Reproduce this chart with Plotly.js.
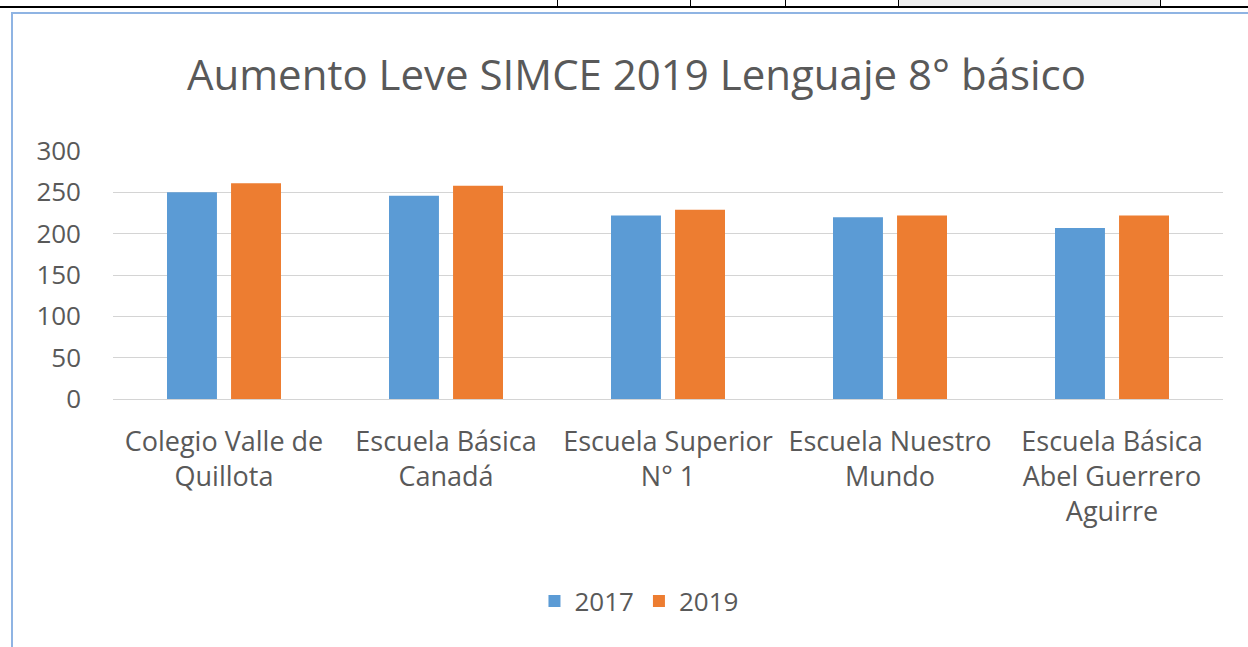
<!DOCTYPE html>
<html>
<head>
<meta charset="utf-8">
<script src="https://cdn.plot.ly/plotly-3.0.1.min.js"></script>
<style>
  html, body { margin: 0; padding: 0; background: #ffffff; width: 1248px; height: 647px; overflow: hidden; }
  #tablerow { position: absolute; left: 0; top: 0; width: 1248px; height: 6px; border-bottom: 2px solid #000; }
  .vline { position: absolute; top: 0; width: 1px; height: 6px; background: #000; }
  #shade { position: absolute; top: 0; left: 898px; width: 262px; height: 6px; background: #eeeeee; }
  #frame { position: absolute; left: 11px; top: 12px; width: 1260px; height: 660px; border-left: 2px solid #8fb4e3; border-top: 2px solid #8fb4e3; }
  #chart { position: absolute; left: 0; top: 0; width: 1248px; height: 647px; }
</style>
</head>
<body>
<div id="tablerow"></div>
<div id="shade"></div>
<div class="vline" style="left:557px"></div>
<div class="vline" style="left:690px"></div>
<div class="vline" style="left:785px"></div>
<div class="vline" style="left:898px"></div>
<div class="vline" style="left:1160px"></div>
<div id="frame"></div>
<div id="chart"></div>
<script>
const categories = [
  "Colegio Valle de<br>Quillota",
  "Escuela Básica<br>Canadá",
  "Escuela Superior<br>N° 1",
  "Escuela Nuestro<br>Mundo",
  "Escuela Básica<br>Abel Guerrero<br>Aguirre"
];
const values2017 = [250, 246, 222, 220, 207];
const values2019 = [261, 258, 229, 222, 222];
const seriesNames = ["2017", "2019"];
const yTicks = [0, 50, 100, 150, 200, 250, 300];

const FONT = "'Open Sans', Carlito, sans-serif";
const TXT = "#595959";

const data = [
  { type: "bar", name: seriesNames[0], x: categories, y: values2017,
    marker: { color: "#5B9BD5" }, hoverinfo: "y" },
  { type: "bar", name: seriesNames[1], x: categories, y: values2019,
    marker: { color: "#ED7D31" }, hoverinfo: "y" }
];

const layout = {
  width: 1248, height: 647,
  paper_bgcolor: "rgba(0,0,0,0)", plot_bgcolor: "rgba(0,0,0,0)",
  margin: { l: 113, r: 25, t: 151, b: 248 },
  font: { family: FONT, color: TXT },
  title: {
    text: "Aumento Leve SIMCE 2019 Lenguaje 8° básico",
    font: { family: FONT, size: 42, color: TXT },
    x: 0.51, xref: "container", xanchor: "center",
    y: 0.884, yref: "container", yanchor: "middle"
  },
  barmode: "group",
  bargap: 0.423,
  bargroupgap: 0.22,
  xaxis: {
    type: "category",
    tickfont: { family: FONT, size: 27, color: TXT },
    ticks: "", showline: false, showgrid: false,
    ticklabelstandoff: 24, tickangle: 0
  },
  yaxis: {
    range: [0, 300], tickvals: yTicks, ticktext: yTicks.map(String),
    tickfont: { family: FONT, size: 26, color: TXT },
    showgrid: true, gridcolor: "#d4d4d4", gridwidth: 1,
    zeroline: true, zerolinecolor: "#d4d4d4", zerolinewidth: 1,
    showline: false, ticks: "", ticklabelstandoff: 31
  },
  showlegend: true,
  legend: {
    orientation: "h", xref: "container", yref: "container",
    x: 0.512, xanchor: "center", y: 0.071, yanchor: "middle",
    font: { family: FONT, size: 26, color: TXT },
    itemwidth: 30, traceorder: "normal"
  }
};

Plotly.newPlot("chart", data, layout, { displayModeBar: false, staticPlot: true });
</script>
</body>
</html>
